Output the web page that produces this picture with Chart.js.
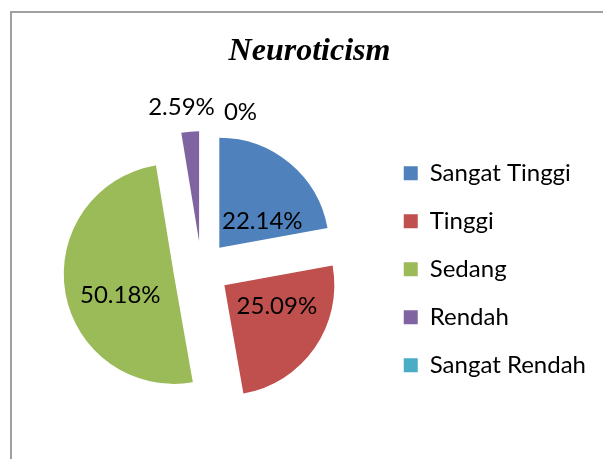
<!DOCTYPE html>
<html>
<head>
<meta charset="utf-8">
<script src="https://cdn.jsdelivr.net/npm/chart.js@4.4.1/dist/chart.umd.min.js"></script>
<style>
  html, body { margin: 0; padding: 0; background: #ffffff; overflow: hidden; }
  #wrap { width: 603px; height: 459px; }
</style>
</head>
<body>
<div id="wrap"><canvas id="c" width="603" height="459"></canvas></div>
<script>
// ---- data ----
const chartTitle = 'Neuroticism';
const categories = ['Sangat Tinggi', 'Tinggi', 'Sedang', 'Rendah', 'Sangat Rendah'];
const percentValues = [22.14, 25.09, 50.18, 2.59, 0];
const sliceColors = ['#4F81BD', '#C0504D', '#9BBB59', '#8064A2', '#4BACC6'];

// ---- styling / placement ----
const explodeDistance = 28; // px each slice is pulled out along its middle angle
// label placement: radius as fraction of pie radius, angle in degrees clockwise from 12 o'clock
const labelRadiusFrac = [0.705, 0.766, 0.774, 1.484, 1.471];
const labelAngleDeg = [51.8, 116.4, 252.2, 353.0, 14.0];
const labelFont = '24px Lato';

function pieCenter(chart) {
  const a = chart.chartArea;
  return { x: (a.left + a.right) / 2, y: (a.top + a.bottom) / 2 };
}

const framePlugin = {
  id: 'frame',
  beforeDraw(chart) {
    const ctx = chart.ctx;
    ctx.save();
    ctx.fillStyle = '#ffffff';
    ctx.fillRect(0, 0, chart.width, chart.height);
    ctx.strokeStyle = '#a0a0a0';
    ctx.lineWidth = 2;
    ctx.strokeRect(11, 12, 800, 800);
    ctx.restore();
  }
};

// Excel-style exploded pie: move each slice's apex out along its middle angle
const explodePlugin = {
  id: 'explode',
  beforeDatasetDraw(chart, args) {
    const c = pieCenter(chart);
    args.meta.data.forEach(arc => {
      const mid = (arc.startAngle + arc.endAngle) / 2;
      arc.x = c.x + Math.cos(mid) * explodeDistance;
      arc.y = c.y + Math.sin(mid) * explodeDistance;
    });
  }
};

const valueLabelPlugin = {
  id: 'valueLabels',
  afterDatasetsDraw(chart) {
    const ctx = chart.ctx;
    const meta = chart.getDatasetMeta(0);
    const c = pieCenter(chart);
    ctx.save();
    ctx.font = labelFont;
    ctx.fillStyle = '#000000';
    ctx.textAlign = 'center';
    ctx.textBaseline = 'middle';
    meta.data.forEach((arc, i) => {
      const v = percentValues[i];
      const txt = v === 0 ? '0%' : v.toFixed(2) + '%';
      const a = (labelAngleDeg[i] - 90) * Math.PI / 180;
      const r = arc.outerRadius * labelRadiusFrac[i];
      ctx.fillText(txt, c.x + Math.cos(a) * r, c.y + Math.sin(a) * r);
    });
    ctx.restore();
  }
};

new Chart(document.getElementById('c'), {
  type: 'pie',
  data: {
    labels: categories,
    datasets: [{
      data: percentValues,
      backgroundColor: sliceColors,
      borderWidth: 0
    }]
  },
  options: {
    responsive: false,
    animation: false,
    events: [],
    radius: 110,
    layout: { padding: { left: 23, right: 7, top: 0, bottom: 9 } },
    plugins: {
      title: {
        display: true,
        text: chartTitle,
        color: '#000000',
        font: { family: 'Liberation Serif', size: 32, weight: 'bold', style: 'italic', lineHeight: 1.2 },
        padding: { top: 33, bottom: 17 }
      },
      legend: {
        display: true,
        position: 'right',
        align: 'center',
        fullSize: false,
        labels: {
          color: '#000000',
          font: { family: 'Lato', size: 24 },
          boxWidth: 14,
          boxHeight: 14,
          padding: 24
        }
      },
      tooltip: { enabled: false }
    }
  },
  plugins: [framePlugin, explodePlugin, valueLabelPlugin]
});
</script>
</body>
</html>
